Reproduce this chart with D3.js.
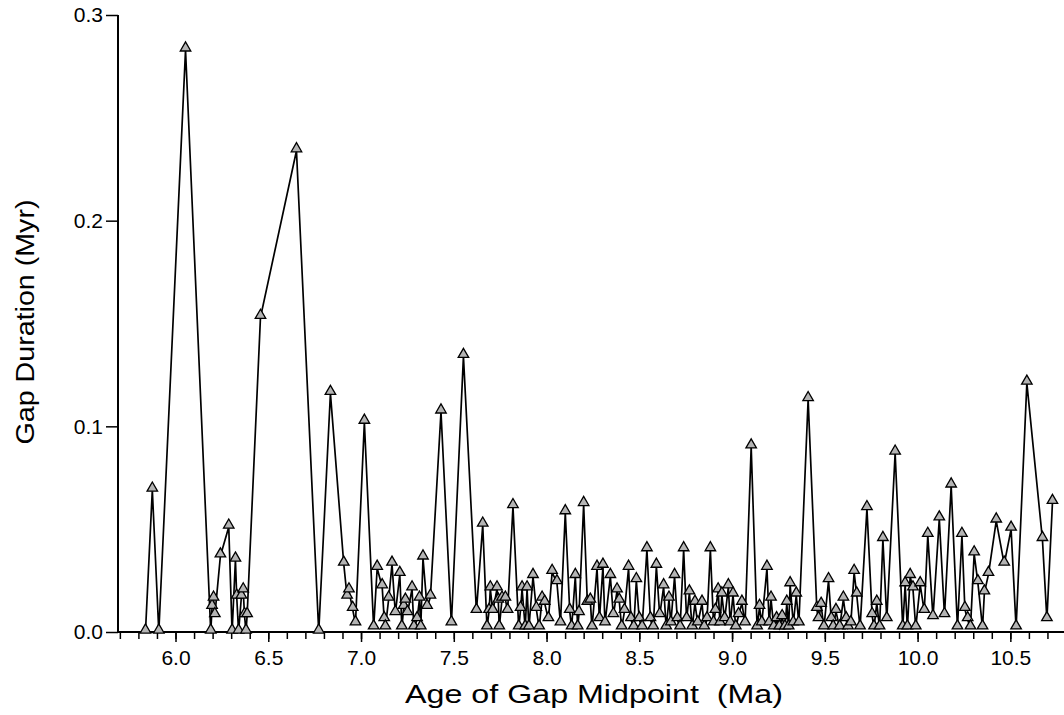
<!DOCTYPE html>
<html>
<head>
<meta charset="utf-8">
<script src="https://cdn.jsdelivr.net/npm/d3@7"></script>
<style>
  html, body { margin: 0; padding: 0; background: #fff; }
  svg { display: block; }
  text { font-family: "Liberation Sans", Arial, sans-serif; fill: #000; }
</style>
</head>
<body>
<svg id="chart" width="1064" height="715"></svg>
<script>
// Age of gap midpoint (Ma)
const ages = [
  5.838, 5.875, 5.910, 6.054, 6.190, 6.197, 6.205, 6.212, 6.242, 6.287,
  6.305, 6.323, 6.330, 6.340, 6.355, 6.365, 6.372, 6.380, 6.386, 6.458,
  6.652, 6.772, 6.835, 6.907, 6.925, 6.935, 6.955, 6.970, 7.018, 7.068,
  7.087, 7.114, 7.125, 7.131, 7.149, 7.167, 7.185, 7.209, 7.220, 7.230,
  7.239, 7.250, 7.275, 7.285, 7.302, 7.315, 7.322, 7.334, 7.356, 7.374,
  7.431, 7.487, 7.552, 7.622, 7.656, 7.679, 7.690, 7.697, 7.710, 7.733,
  7.740, 7.745, 7.760, 7.778, 7.790, 7.819, 7.850, 7.860, 7.868, 7.885,
  7.895, 7.905, 7.927, 7.945, 7.960, 7.976, 7.990, 8.010, 8.030, 8.056,
  8.075, 8.101, 8.125, 8.135, 8.155, 8.168, 8.175, 8.200, 8.220, 8.236,
  8.245, 8.272, 8.285, 8.304, 8.315, 8.344, 8.360, 8.380, 8.392, 8.405,
  8.420, 8.442, 8.455, 8.470, 8.484, 8.500, 8.515, 8.541, 8.560, 8.575,
  8.592, 8.610, 8.631, 8.645, 8.660, 8.670, 8.690, 8.705, 8.720, 8.739,
  8.755, 8.770, 8.785, 8.800, 8.815, 8.838, 8.850, 8.865, 8.883, 8.900,
  8.910, 8.925, 8.935, 8.945, 8.960, 8.980, 8.990, 9.005, 9.020, 9.035,
  9.053, 9.070, 9.103, 9.135, 9.148, 9.160, 9.188, 9.200, 9.210, 9.225,
  9.240, 9.255, 9.270, 9.285, 9.295, 9.305, 9.313, 9.330, 9.346, 9.360,
  9.410, 9.457, 9.466, 9.480, 9.495, 9.520, 9.535, 9.545, 9.560, 9.580,
  9.600, 9.615, 9.625, 9.640, 9.658, 9.672, 9.690, 9.727, 9.755, 9.765,
  9.780, 9.795, 9.813, 9.834, 9.879, 9.920, 9.933, 9.945, 9.960, 9.975,
  9.990, 10.014, 10.036, 10.055, 10.083, 10.117, 10.145, 10.181, 10.215, 10.239,
  10.255, 10.270, 10.285, 10.305, 10.325, 10.350, 10.360, 10.382, 10.424, 10.467,
  10.504, 10.531, 10.589, 10.673, 10.697, 10.727
];

// Gap duration (Myr)
const durations = [
  0.000, 0.069, 0.000, 0.283, 0.000, 0.012, 0.016, 0.008, 0.037, 0.051,
  0.000, 0.035, 0.017, 0.000, 0.017, 0.020, 0.008, 0.000, 0.008, 0.153,
  0.234, 0.000, 0.116, 0.033, 0.017, 0.020, 0.011, 0.004, 0.102, 0.002,
  0.031, 0.022, 0.006, 0.002, 0.016, 0.033, 0.009, 0.028, 0.002, 0.012,
  0.015, 0.009, 0.021, 0.002, 0.006, 0.016, 0.002, 0.036, 0.012, 0.017,
  0.107, 0.004, 0.134, 0.010, 0.052, 0.002, 0.010, 0.021, 0.010, 0.021,
  0.015, 0.002, 0.016, 0.016, 0.010, 0.061, 0.002, 0.011, 0.021, 0.002,
  0.021, 0.002, 0.027, 0.011, 0.002, 0.016, 0.014, 0.006, 0.029, 0.024,
  0.004, 0.058, 0.010, 0.002, 0.027, 0.002, 0.009, 0.062, 0.014, 0.015,
  0.002, 0.031, 0.006, 0.032, 0.004, 0.027, 0.008, 0.020, 0.015, 0.002,
  0.010, 0.031, 0.006, 0.002, 0.025, 0.006, 0.002, 0.040, 0.006, 0.002,
  0.032, 0.008, 0.022, 0.002, 0.016, 0.004, 0.027, 0.006, 0.002, 0.040,
  0.006, 0.019, 0.002, 0.014, 0.004, 0.014, 0.002, 0.006, 0.040, 0.004,
  0.010, 0.020, 0.004, 0.018, 0.006, 0.022, 0.004, 0.018, 0.002, 0.008,
  0.014, 0.004, 0.090, 0.002, 0.012, 0.004, 0.031, 0.004, 0.016, 0.002,
  0.006, 0.002, 0.007, 0.002, 0.014, 0.002, 0.023, 0.004, 0.018, 0.004,
  0.113, 0.011, 0.006, 0.013, 0.002, 0.025, 0.006, 0.002, 0.010, 0.002,
  0.016, 0.006, 0.002, 0.004, 0.029, 0.018, 0.002, 0.060, 0.008, 0.002,
  0.014, 0.002, 0.045, 0.006, 0.087, 0.002, 0.023, 0.002, 0.027, 0.021,
  0.002, 0.023, 0.010, 0.047, 0.007, 0.055, 0.008, 0.071, 0.002, 0.047,
  0.011, 0.006, 0.002, 0.038, 0.024, 0.002, 0.019, 0.028, 0.054, 0.033,
  0.050, 0.002, 0.121, 0.045, 0.006, 0.063
];

// Tick values
const xMajorTicks = [6.0, 6.5, 7.0, 7.5, 8.0, 8.5, 9.0, 9.5, 10.0, 10.5];
const xMinorTicks = d3.range(57, 109).map(d => d / 10);
const yTicks = [0.0, 0.1, 0.2, 0.3];

const points = ages.map((a, i) => ({ age: a, dur: durations[i] }));

const svg = d3.select("#chart");

const x = d3.scaleLinear().domain([5.69, 10.8]).range([118, 1066]);
const y = d3.scaleLinear().domain([0, 0.3]).range([632, 15]);

// Y axis
const yAxis = d3.axisLeft(y)
  .tickValues(yTicks)
  .tickFormat(d3.format(".1f"))
  .tickSize(12)
  .tickPadding(3);
const gy = svg.append("g").attr("transform", `translate(${x.range()[0]},0)`).call(yAxis);
gy.select(".domain").attr("stroke-width", 2).attr("d", `M0,${y(0.3)}V${y(0)}`);
gy.selectAll(".tick line").attr("stroke-width", 1.5);
gy.selectAll(".tick text").attr("font-size", 21);

// X axis: minor ticks, then major ticks with labels
const gxMinor = svg.append("g").attr("transform", `translate(0,${y(0)})`)
  .call(d3.axisBottom(x).tickValues(xMinorTicks).tickFormat("").tickSize(7));
gxMinor.select(".domain").remove();
gxMinor.selectAll(".tick line").attr("stroke-width", 1.5);

const gx = svg.append("g").attr("transform", `translate(0,${y(0)})`)
  .call(d3.axisBottom(x).tickValues(xMajorTicks).tickFormat(d3.format(".1f")).tickSize(10).tickPadding(8));
gx.select(".domain").attr("stroke-width", 2).attr("d", `M${x.range()[0]},0H1064`);
gx.selectAll(".tick line").attr("stroke-width", 1.5);
gx.selectAll(".tick text").attr("font-size", 21);

// Axis titles
svg.append("text")
  .attr("x", 594).attr("y", 703)
  .attr("text-anchor", "middle")
  .attr("font-size", 26)
  .attr("textLength", 378)
  .attr("lengthAdjust", "spacingAndGlyphs")
  .attr("xml:space", "preserve")
  .style("white-space", "pre")
  .text("Age of Gap Midpoint  (Ma)");

svg.append("text")
  .attr("transform", "translate(34,322) rotate(-90)")
  .attr("text-anchor", "middle")
  .attr("font-size", 26)
  .attr("textLength", 245)
  .attr("lengthAdjust", "spacingAndGlyphs")
  .text("Gap Duration (Myr)");

// Series line
const line = d3.line().x(d => x(d.age)).y(d => y(d.dur));
svg.append("path")
  .datum(points)
  .attr("fill", "none")
  .attr("stroke", "#000")
  .attr("stroke-width", 1.7)
  .attr("d", line);

// Triangle markers
const tri = d3.symbol().type(d3.symbolTriangle).size(48);
svg.append("g").selectAll("path")
  .data(points)
  .join("path")
  .attr("d", tri)
  .attr("transform", d => `translate(${x(d.age)},${y(d.dur) - 2})`)
  .attr("fill", "#b4b4b4")
  .attr("stroke", "#000")
  .attr("stroke-width", 1.3);
</script>
</body>
</html>
